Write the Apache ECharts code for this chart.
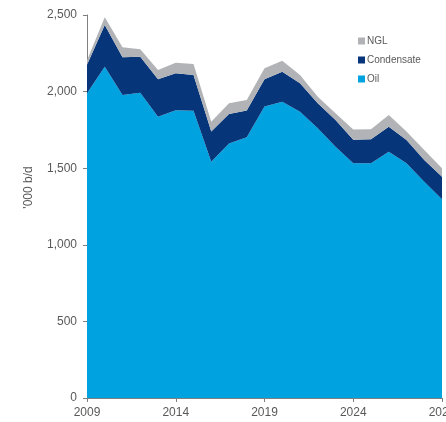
<!DOCTYPE html>
<html>
<head>
<meta charset="utf-8">
<script src="https://cdn.jsdelivr.net/npm/echarts@6/dist/echarts.min.js"></script>
<style>
  html, body { margin: 0; padding: 0; background: #fff; overflow: hidden; }
  #chart { width: 446px; height: 422px; }
</style>
</head>
<body>
<div id="chart"></div>
<script>
// years on the x axis, one point per year
const years = ['2009', '2010', '2011', '2012', '2013', '2014', '2015', '2016', '2017', '2018',
  '2019', '2020', '2021', '2022', '2023', '2024', '2025', '2026', '2027', '2028', '2029']

// '000 b/d (stacked: oil at the bottom)
const oil = [1990, 2163, 1978, 1993, 1836, 1878, 1875, 1542, 1662, 1702,
  1902, 1934, 1869, 1760, 1640, 1532, 1532, 1608, 1532, 1412, 1297]
const condensate = [185, 272, 246, 235, 244, 242, 233, 197, 192, 174,
  178, 196, 185, 164, 175, 154, 157, 163, 152, 141, 147]
const ngl = [30, 50, 65, 48, 61, 69, 72, 65, 70, 69,
  72, 72, 54, 43, 43, 66, 65, 76, 55, 66, 55]

const textColor = '#595959'
const font = 'Liberation Sans, Arial, sans-serif'

const chart = echarts.init(document.getElementById('chart'))

const area = (name, data, color) => ({
  name,
  type: 'line',
  stack: 'total',
  data,
  symbol: 'none',
  lineStyle: { width: 0 },
  areaStyle: { color, opacity: 1 },
  itemStyle: { color },
  animation: false
})

chart.setOption({
  backgroundColor: '#fff',
  textStyle: { fontFamily: font },
  // v6 would shrink the grid to keep the last year label inside; the original clips it
  grid: { left: 87, right: 4, top: 15, bottom: 24, outerBoundsMode: 'none', containLabel: false },
  legend: {
    orient: 'vertical',
    left: 353,
    top: 30,
    itemWidth: 7,
    itemHeight: 7,
    itemGap: 7,
    icon: 'rect',
    data: ['NGL', 'Condensate', 'Oil'],
    textStyle: { color: textColor, fontSize: 10, fontFamily: font, padding: [0, 0, 0, -3], lineHeight: 12 }
  },
  xAxis: {
    type: 'category',
    boundaryGap: false,
    data: years,
    axisLine: { lineStyle: { color: '#7f7f7f', width: 1 } },
    axisTick: { interval: 4, length: 4, lineStyle: { color: '#7f7f7f' } },
    axisLabel: { interval: 4, color: textColor, fontSize: 12, fontFamily: font, margin: 9 },
    splitLine: { show: false }
  },
  yAxis: {
    type: 'value',
    min: 0,
    max: 2500,
    interval: 500,
    name: "'000 b/d",
    nameLocation: 'middle',
    nameGap: 52,
    // left padding pushes the rotated title up a little, as in the original
    nameTextStyle: { color: textColor, fontSize: 12, fontFamily: font, padding: [0, 0, 0, 38] },
    axisLine: { show: true, lineStyle: { color: '#7f7f7f', width: 1 } },
    axisTick: { show: true, length: 4, lineStyle: { color: '#7f7f7f' } },
    axisLabel: {
      color: textColor,
      fontSize: 12,
      fontFamily: font,
      margin: 10,
      formatter: v => v.toLocaleString('en-US')
    },
    splitLine: { show: false }
  },
  series: [
    area('Oil', oil, '#00a3e0'),
    area('Condensate', condensate, '#06357a'),
    area('NGL', ngl, '#b1b3b6')
  ]
})
</script>
</body>
</html>
